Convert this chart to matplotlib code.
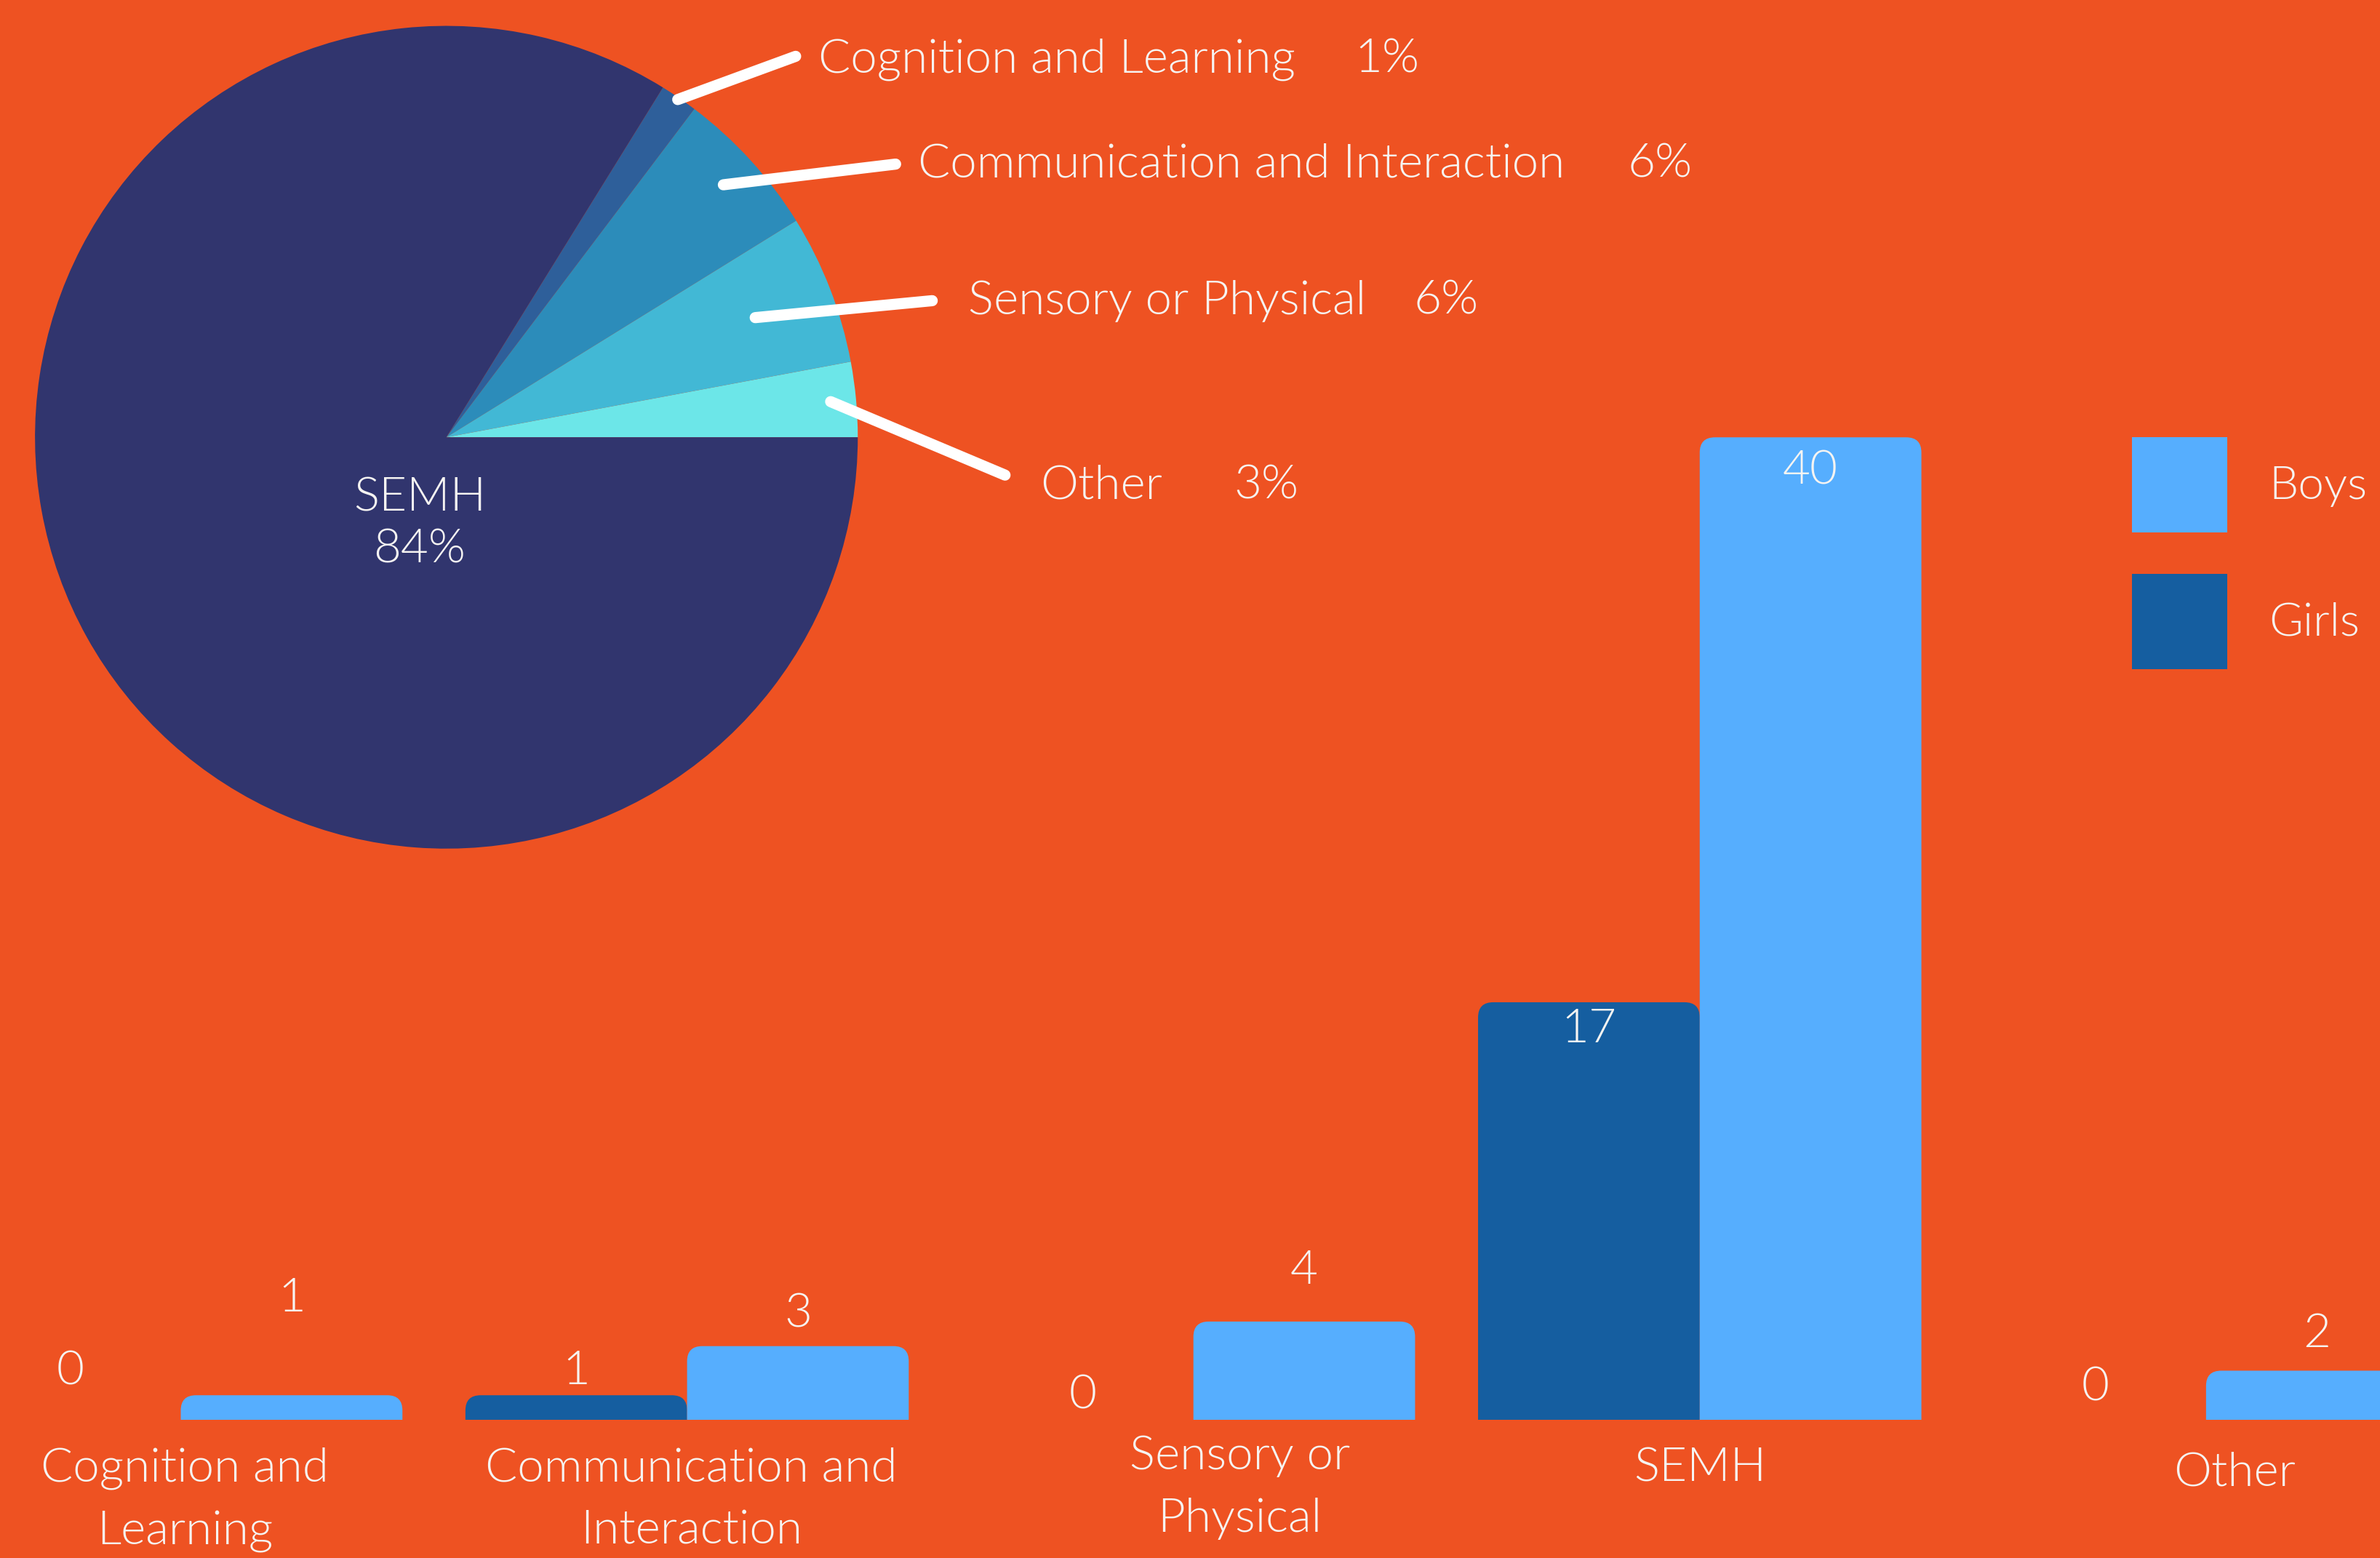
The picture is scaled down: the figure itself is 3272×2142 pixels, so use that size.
import matplotlib.pyplot as plt
from matplotlib.patches import FancyBboxPatch, Patch
import numpy as np

plt.rcParams['font.family'] = ['Lato', 'DejaVu Sans']
plt.rcParams['font.weight'] = 300

# data
categories = ["Cognition and\nLearning", "Communication and\nInteraction",
              "Sensory or\nPhysical", "SEMH", "Other"]
girls = [0, 1, 0, 17, 0]
boys = [1, 3, 4, 40, 2]

pie_names = ["Cognition and Learning", "Communication and Interaction",
             "Sensory or Physical", "SEMH", "Other"]
pie_pct = [1, 6, 6, 84, 3]

# colours
bg = '#ee5222'
txt = '#f6f4f2'
c_boys = '#56aefe'
c_girls = '#155ea0'
pie_colors = ['#2e5f9a', '#2c8cba', '#42b8d5', '#31356e', '#6ce6e8']

fig = plt.figure(figsize=(3273 / 200, 2142 / 200), dpi=200, facecolor=bg)
FS = 23.6

######################################################
# pie
axp = fig.add_axes([0.1875 - 0.1728, 0.7193 - 0.2641, 0.3456, 0.5283])
totals = [g + b for g, b in zip(girls, boys)]
order = [4, 2, 1, 0, 3]  # counter clockwise from 3 o'clock
wedges, _ = axp.pie([totals[i] for i in order],
                    colors=[pie_colors[i] for i in order],
                    startangle=0, counterclock=True, radius=1,
                    wedgeprops=dict(linewidth=0))
axp.set_xlim(-1, 1)
axp.set_ylim(-1, 1)
axp.set_aspect('equal')
axp.axis('off')

# leader lines: start radius, line end, text pos, percent x
lead_r = {0: 0.995, 1: 0.911, 2: 0.805, 4: 0.938}
lead_end = {0: (0.849, 0.926), 1: (1.092, 0.664), 2: (1.181, 0.332), 4: (1.358, -0.092)}
lab_pos = {0: (0.904, 0.918), 1: (1.146, 0.664), 2: (1.269, 0.331), 4: (1.443, -0.118)}
pct_x = {0: 2.207, 1: 2.871, 2: 2.351, 4: 1.915}

for w, i in zip(wedges, order):
    if i == 3:
        axp.text(-0.065, -0.21, f"{pie_names[i]}\n{pie_pct[i]}%", color=txt,
                 fontsize=FS, ha='center', va='center', linespacing=1.28)
        continue
    mid = np.deg2rad((w.theta1 + w.theta2) / 2)
    r = lead_r[i]
    ex, ey = lead_end[i]
    axp.plot([r * np.cos(mid), ex], [r * np.sin(mid), ey], color='white',
             lw=5.5, solid_capstyle='round', clip_on=False)
    lx, ly = lab_pos[i]
    axp.text(lx, ly, pie_names[i], color=txt, fontsize=FS, ha='left', va='center')
    axp.text(pct_x[i], ly, f"{pie_pct[i]}%", color=txt, fontsize=FS,
             ha='left', va='center')

######################################################
# bars
ax = fig.add_axes([0, 0.0887, 1, 0.6306])
ax.set_xlim(-0.357, 4.345)
ax.set_ylim(0, 40)
ax.axis('off')

w = 0.4378
rs = 0.03
asp = 20.6
lab_off_g = [24, 12, 12, -13.5, 16]
lab_off_b = [48, 16, 25, -16.5, 18]

x = np.arange(len(categories))
for i in x:
    for val, x0, col, off in [(girls[i], i - w, c_girls, lab_off_g[i]),
                              (boys[i], i, c_boys, lab_off_b[i])]:
        if val > 0:
            p = FancyBboxPatch((x0, -1), w, val + 1,
                               boxstyle=f"round,pad=0,rounding_size={rs}",
                               mutation_aspect=asp, fc=col, ec='none')
            ax.add_patch(p)
        ax.annotate(str(val), xy=(x0 + w / 2, val), xytext=(0, off),
                    textcoords='offset points', ha='center', va='center',
                    color=txt, fontsize=FS, annotation_clip=False)

tick_dx = [2, 2, 23, 0, 14]
tick_dy = [0, 0, 6, 0, -2]
for i, lab in enumerate(categories):
    ax.annotate(lab, xy=(i, 0), xytext=(tick_dx[i], -13.5 + tick_dy[i]),
                textcoords='offset points', ha='center', va='top',
                color=txt, fontsize=FS, linespacing=1.6,
                annotation_clip=False)

# legend
handles = [Patch(fc=c_boys, ec='none', label='Boys'),
           Patch(fc=c_girls, ec='none', label='Girls')]
fig.legend(handles=handles, loc='upper left', bbox_to_anchor=(0.8954, 0.7193),
           frameon=False, fontsize=23, handlelength=2.05, handleheight=2.78,
           labelspacing=0.89, handletextpad=0.9, borderpad=0, borderaxespad=0,
           labelcolor=txt)

fig.savefig('out.png', dpi=200, facecolor=bg)
